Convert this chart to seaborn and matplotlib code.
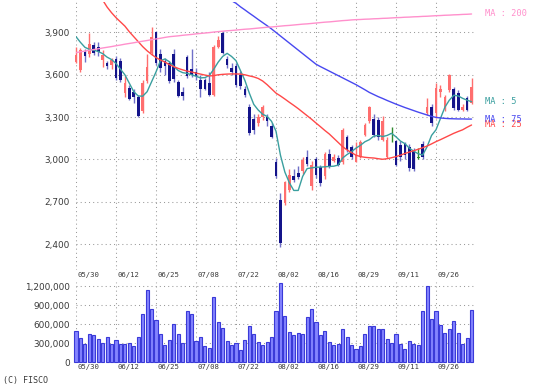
import numpy as np
import pandas as pd
import matplotlib
matplotlib.use("Agg")
import matplotlib.pyplot as plt
import seaborn as sns

# ---------------- data ----------------
date_labels = ["05/30", "06/12", "06/25", "07/08", "07/22", "08/02", "08/16", "08/29", "09/11", "09/26"]
date_label_idx = [0, 9, 18, 27, 36, 45, 54, 63, 72, 81]

opens = [3693, 3634, 3765, 3745, 3810, 3800, 3705, 3685, 3670, 3715,
         3700, 3470, 3505, 3480, 3445, 3340, 3555, 3755, 3900, 3750,
         3700, 3685, 3750, 3550, 3480, 3725, 3640, 3620, 3560, 3560,
         3540, 3457, 3800, 3895, 3710, 3650, 3660, 3600, 3500, 3370,
         3290, 3255, 3300, 3300, 3235, 2985, 2712, 2690, 2785, 2880,
         2905, 2915, 3020, 2810, 3005, 2945, 2880, 3040, 2990, 3010,
         2985, 3160, 3090, 2985, 3020, 3175, 3270, 3290, 3280, 3140,
         3020, 3180, 3130, 3100, 3110, 3090, 3060, 3010, 3110, 3329,
         3372, 3329, 3478, 3355, 3495, 3499, 3471, 3350, 3435, 3400]
highs = [3800, 3790, 3780, 3895, 3830, 3830, 3776, 3700, 3720, 3730,
         3720, 3590, 3530, 3500, 3460, 3560, 3750, 3940, 3910, 3780,
         3720, 3700, 3780, 3560, 3510, 3740, 3780, 3650, 3600, 3575,
         3620, 3810, 3875, 3910, 3730, 3680, 3680, 3630, 3520, 3390,
         3320, 3320, 3385, 3320, 3260, 3010, 2760, 2850, 2930, 2935,
         2950, 3020, 3070, 2990, 3020, 2960, 3050, 3075, 3040, 3030,
         3225, 3170, 3100, 3125, 3140, 3260, 3380, 3320, 3300, 3310,
         3160, 3230, 3140, 3130, 3120, 3110, 3080, 3080, 3130, 3435,
         3390, 3540, 3528, 3460, 3605, 3510, 3490, 3390, 3450, 3577]
lows = [3682, 3620, 3690, 3725, 3740, 3730, 3657, 3640, 3640, 3560,
        3550, 3445, 3420, 3400, 3298, 3330, 3540, 3740, 3670, 3620,
        3600, 3540, 3550, 3440, 3420, 3580, 3585, 3560, 3445, 3490,
        3450, 3450, 3790, 3745, 3650, 3600, 3510, 3500, 3440, 3170,
        3180, 3240, 3280, 3240, 3150, 2870, 2381, 2675, 2770, 2840,
        2860, 2900, 2950, 2785, 2870, 2810, 2860, 2940, 2980, 2950,
        2970, 3055, 3005, 2980, 3010, 3165, 3260, 3160, 3140, 3130,
        3010, 3120, 2950, 2990, 3000, 2920, 2920, 3000, 3000, 3315,
        3240, 3294, 3445, 3340, 3480, 3350, 3340, 3340, 3340, 3395]
closes = [3740, 3776, 3730, 3820, 3755, 3760, 3740, 3660, 3705, 3580,
          3565, 3540, 3425, 3440, 3305, 3540, 3655, 3870, 3685, 3650,
          3660, 3555, 3570, 3450, 3450, 3590, 3600, 3590, 3500, 3500,
          3460, 3800, 3850, 3755, 3670, 3620, 3530, 3520, 3460, 3190,
          3210, 3300, 3370, 3270, 3160, 2880, 2405, 2840, 2890, 2855,
          2875, 2995, 2970, 2960, 2890, 2830, 3040, 2945, 3020, 2960,
          3205, 3070, 3020, 3030, 3125, 3245, 3370, 3175, 3160, 3270,
          3140, 3180, 2960, 3020, 3030, 2940, 2930, 3010, 3020, 3372,
          3258, 3506, 3499, 3440, 3595, 3365, 3350, 3372, 3350, 3513]

volumes_k = [492, 377, 288, 440, 425, 362, 299, 403, 288, 346,
             288, 288, 303, 256, 403, 760, 1137, 833, 665, 445,
             267, 351, 607, 445, 299, 812, 760, 335, 393, 256,
             220, 1032, 629, 535, 340, 272, 308, 193, 351, 571,
             445, 324, 272, 315, 403, 807, 1252, 733, 481, 429,
             456, 445, 708, 833, 629, 429, 492, 324, 272, 288,
             519, 393, 272, 204, 256, 440, 571, 571, 519, 519,
             362, 299, 440, 288, 204, 340, 288, 272, 812, 1200,
             676, 812, 587, 456, 519, 655, 456, 288, 377, 823]

ma5 = [3870, 3830, 3795, 3780, 3775, 3765, 3750, 3725, 3708, 3680,
       3640, 3600, 3540, 3480, 3450, 3448, 3480, 3550, 3620, 3700,
       3712, 3693, 3660, 3630, 3615, 3610, 3600, 3590, 3578, 3580,
       3595, 3640, 3690, 3730, 3752, 3730, 3700, 3630, 3560, 3470,
       3390, 3350, 3320, 3305, 3270, 3200, 3030, 2910, 2835, 2780,
       2780, 2880, 2935, 2940, 2945, 2945, 2948, 2950, 2952, 2960,
       3010, 3035, 3055, 3080, 3100, 3125, 3140, 3165, 3170, 3162,
       3170, 3185, 3160, 3130, 3112, 3080, 3058, 3040, 3031, 3090,
       3170, 3210, 3290, 3370, 3420, 3455, 3450, 3433, 3420, 3409]
ma25 = [np.nan] * 6 + [
       4130, 4080, 4040, 4005,
       3975, 3945, 3905, 3870, 3835, 3800, 3770, 3745, 3722, 3705,
       3690, 3672, 3658, 3645, 3635, 3626, 3620, 3612, 3605, 3598,
       3592, 3594, 3600, 3603, 3605, 3606, 3606, 3605, 3600, 3592,
       3585, 3574, 3556, 3530, 3500, 3470, 3450, 3428, 3405, 3383,
       3360, 3335, 3310, 3285, 3258, 3232, 3205, 3180, 3150, 3120,
       3090, 3067, 3048, 3030, 3020, 3015, 3012, 3010, 3005, 3001,
       3005, 3012, 3020, 3030, 3042, 3052, 3062, 3072, 3083, 3095,
       3110, 3126, 3140, 3155, 3170, 3185, 3198, 3210, 3228, 3244]
ma75 = [np.nan] * 35 + [
       4125, 4107, 4082, 4060, 4037,
       4015, 3992, 3970, 3948, 3925, 3900, 3875, 3850, 3825, 3800,
       3775, 3750, 3725, 3700, 3675, 3658, 3642, 3626, 3610, 3594,
       3578, 3562, 3546, 3530, 3512, 3494, 3475, 3460, 3445, 3432,
       3418, 3405, 3392, 3380, 3368, 3357, 3346, 3335, 3325, 3315,
       3305, 3298, 3294, 3291, 3289, 3288, 3287, 3287, 3286, 3286]
ma200 = [3757, 3763, 3768, 3774, 3779, 3784, 3790, 3795, 3800, 3806,
         3811, 3817, 3822, 3827, 3833, 3838, 3843, 3849, 3854, 3859,
         3865, 3870, 3873, 3876, 3880, 3883, 3886, 3890, 3893, 3896,
         3899, 3903, 3906, 3909, 3912, 3914, 3917, 3920, 3923, 3925,
         3928, 3931, 3934, 3937, 3939, 3942, 3945, 3948, 3950, 3953,
         3956, 3959, 3961, 3964, 3967, 3970, 3973, 3975, 3978, 3981,
         3984, 3986, 3989, 3991, 3992, 3994, 3995, 3997, 3998, 4000,
         4001, 4003, 4005, 4006, 4008, 4009, 4011, 4012, 4014, 4015,
         4017, 4019, 4020, 4022, 4023, 4025, 4026, 4028, 4029, 4031]

price_ticks = [2400, 2700, 3000, 3300, 3600, 3900]
volume_ticks = [0, 300000, 600000, 900000, 1200000]
ma_names = ["MA : 5", "MA : 25", "MA : 75", "MA : 200"]

# ---------------- style ----------------
sns.set_style("white")
plt.rcParams["font.family"] = ["DejaVu Sans"]

UP = "#ff6e6e"
DOWN = "#14148a"
DOWN_WICK = "#7070c8"
DOJI = "#2e8b2e"
MA_COLORS = ["#3a9f9f", "#ff4848", "#4848f0", "#ff90cc"]
GRID = "#9a9a9a"
GRID_LS = (0, (1.0, 3.0))
TXT = "#3a3a3a"
MONO = "DejaVu Sans Mono"

W, H = 534, 392
fig = plt.figure(figsize=(W / 100, H / 100), dpi=100)
ax = fig.add_axes([76 / W, 1 - 270 / H, 399.1 / W, 268 / H])
axv = fig.add_axes([76 / W, 1 - 362.3 / H, 399.1 / W, 80.3 / H])

n = len(closes)
idx = np.arange(n)
o = np.array(opens, float)
c = np.array(closes, float)
h = np.array(highs, float)
l = np.array(lows, float)

# ---------------- price panel ----------------
wick_cols = [UP if cc > oo else (DOJI if cc == oo else DOWN_WICK) for oo, cc in zip(o, c)]
body_cols = [UP if cc > oo else (DOJI if cc == oo else DOWN) for oo, cc in zip(o, c)]
ax.vlines(idx, l, h, colors=wick_cols, linewidth=1.0, zorder=3, clip_on=False)
body_h = np.maximum(np.abs(c - o), 8)
body_b = np.minimum(o, c)
ax.bar(idx, body_h, bottom=body_b, width=0.62, color=body_cols, linewidth=0,
       zorder=4, clip_on=False)

ma_df = pd.DataFrame({"idx": idx, "MA : 5": ma5, "MA : 25": ma25,
                      "MA : 75": ma75, "MA : 200": ma200})
for name, col in zip(ma_names, MA_COLORS):
    sub = ma_df[["idx", name]].dropna()
    sns.lineplot(data=sub, x="idx", y=name, ax=ax, color=col, linewidth=1.0,
                 zorder=5, legend=False)
    last = sub[name].iloc[-1]
    ax.text(92.0, last, name, color=col, fontsize=6.2, family=MONO,
            va="center", ha="left", clip_on=False)

ax.set_xlim(0, 89.8)
ax.set_ylim(2216, 4116)
ax.set_yticks(price_ticks)
ax.set_yticklabels([f"{v:,}" for v in price_ticks])
ax.set_xticks(date_label_idx)
ax.tick_params(axis="x", labelbottom=False, length=0)
ax.tick_params(axis="y", length=0, pad=4.5, labelsize=6.4, labelcolor=TXT)
ax.grid(True, axis="both", linestyle=GRID_LS, color=GRID, linewidth=0.75)
ax.set_xlabel("")
ax.set_ylabel("")
for s in ax.spines.values():
    s.set_visible(False)

# ---------------- volume panel ----------------
vol_df = pd.DataFrame({"idx": idx, "vol": np.array(volumes_k) * 1000})
sns.barplot(data=vol_df, x="idx", y="vol", ax=axv, native_scale=True,
            color="#8484ff", edgecolor="#3a3ad8", linewidth=0.8, width=0.72,
            saturation=1, errorbar=None, zorder=3)
for p in axv.patches:
    p.set_clip_on(False)
axv.set_xlim(0, 89.8)
axv.set_ylim(0, 1263000)
axv.set_yticks(volume_ticks)
axv.set_yticklabels([f"{v:,}" for v in volume_ticks])
axv.set_xticks(date_label_idx)
axv.tick_params(axis="x", labelbottom=False, length=0)
axv.tick_params(axis="y", length=0, pad=4.5, labelsize=6.4, labelcolor=TXT)
axv.grid(True, axis="both", linestyle=GRID_LS, color=GRID, linewidth=0.75)
axv.set_axisbelow(True)
axv.set_xlabel("")
axv.set_ylabel("")
for s in axv.spines.values():
    s.set_visible(False)

# date labels above and below the volume panel
for i, lab in zip(date_label_idx, date_labels):
    ax.annotate(lab, xy=(i, 0), xycoords=("data", "axes fraction"),
                xytext=(1, -5.5 * 0.72), textcoords="offset points",
                fontsize=5.2, family=MONO, color=TXT, ha="left", va="center",
                annotation_clip=False)
    axv.annotate(lab, xy=(i, 0), xycoords=("data", "axes fraction"),
                 xytext=(1, -4.7 * 0.72), textcoords="offset points",
                 fontsize=5.2, family=MONO, color=TXT, ha="left", va="center",
                 annotation_clip=False)

fig.text(3 / W, 1 - 380 / H, "(C) FISCO", fontsize=6, family=MONO, color=TXT,
         ha="left", va="center")

fig.savefig("out.png", dpi=100)
